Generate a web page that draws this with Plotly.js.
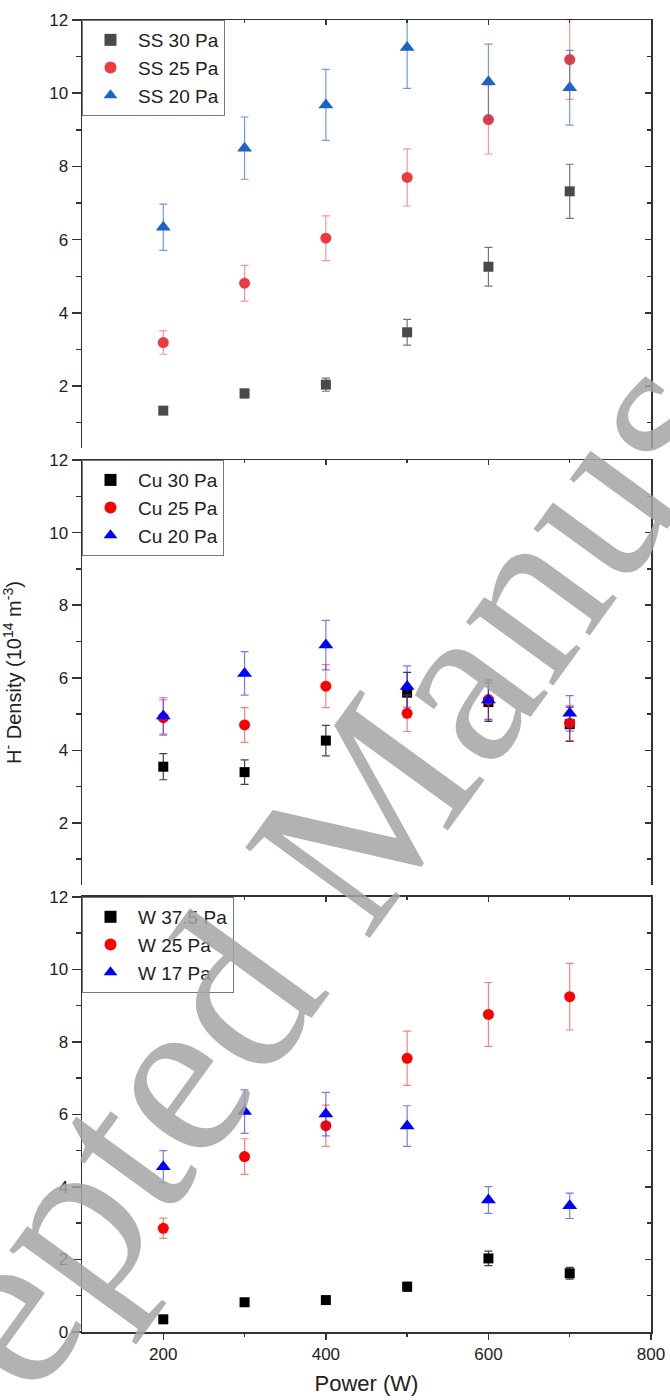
<!DOCTYPE html>
<html>
<head>
<meta charset="utf-8">
<script src="https://cdn.plot.ly/plotly-3.0.1.min.js"></script>
<style>html,body{margin:0;padding:0;background:#fff;}#chart{width:670px;height:1400px;}</style>
</head>
<body>
<div id="chart"></div>
<script>
// ---- data ----
const power = [200, 300, 400, 500, 600, 700];

const ss30 = [1.33, 1.80, 2.04, 3.47, 5.26, 7.32];
const ss30Err = [0.08, 0.12, 0.18, 0.35, 0.53, 0.74];
const ss25 = [3.19, 4.81, 6.04, 7.70, 9.28, 10.92];
const ss25Err = [0.32, 0.49, 0.61, 0.78, 0.94, 1.09];
const ss20 = [6.34, 8.50, 9.68, 11.25, 10.31, 10.15];
const ss20Err = [0.63, 0.85, 0.97, 1.12, 1.03, 1.02];

const cu30 = [3.55, 3.40, 4.27, 5.59, 5.33, 4.72];
const cu30Err = [0.36, 0.34, 0.42, 0.56, 0.53, 0.47];
const cu25 = [4.90, 4.70, 5.77, 5.02, 5.40, 4.75];
const cu25Err = [0.49, 0.48, 0.59, 0.50, 0.54, 0.48];
const cu20 = [4.95, 6.12, 6.90, 5.76, 5.39, 5.02];
const cu20Err = [0.50, 0.60, 0.68, 0.57, 0.55, 0.49];

const w375 = [0.35, 0.82, 0.88, 1.25, 2.03, 1.62];
const w375Err = [0.04, 0.08, 0.09, 0.12, 0.20, 0.16];
const w25 = [2.86, 4.84, 5.69, 7.55, 8.76, 9.25];
const w25Err = [0.28, 0.49, 0.57, 0.75, 0.88, 0.92];
const w17 = [4.56, 6.08, 6.01, 5.68, 3.64, 3.48];
const w17Err = [0.44, 0.60, 0.60, 0.56, 0.37, 0.35];

const seriesNames = [
  ['SS 30 Pa', 'SS 25 Pa', 'SS 20 Pa'],
  ['Cu 30 Pa', 'Cu 25 Pa', 'Cu 20 Pa'],
  ['W 37.5 Pa', 'W 25 Pa', 'W 17 Pa']
];
const xTickVals = [200, 400, 600, 800];
const xMinorVals = [300, 500, 700];
const yTickVals = [0, 2, 4, 6, 8, 10, 12];
const yMinorVals = [1, 3, 5, 7, 9, 11];

// ---- styles ----
const symbols = ['square', 'circle', 'triangle-up'];
const sizes = [10, 11, 13];
const panelColors = [
  ['#4a4a4a', '#ec3b3f', '#1c63c8'],
  ['#000000', '#ff0000', '#0000ff'],
  ['#000000', '#ff0000', '#0000ff']
];
const errColors = [
  ['rgba(70,70,70,0.75)', 'rgba(236,80,84,0.6)', 'rgba(40,100,200,0.65)'],
  ['rgba(0,0,0,0.75)', 'rgba(255,40,40,0.6)', 'rgba(30,30,255,0.6)'],
  ['rgba(0,0,0,0.75)', 'rgba(255,40,40,0.6)', 'rgba(30,30,255,0.6)']
];
const panelData = [
  [[ss30, ss30Err], [ss25, ss25Err], [ss20, ss20Err]],
  [[cu30, cu30Err], [cu25, cu25Err], [cu20, cu20Err]],
  [[w375, w375Err], [w25, w25Err], [w17, w17Err]]
];

const traces = [];
panelData.forEach((panel, p) => {
  // helper trace holding no visible point, so the mirrored (top / right) frame axes get drawn
  traces.push({
    type: 'scatter', mode: 'markers', x: [null], y: [null],
    xaxis: 'x' + (p + 4), yaxis: 'y' + (p + 4),
    showlegend: false, hoverinfo: 'skip', marker: {opacity: 0}
  });
  panel.forEach((s, k) => {
    traces.push({
      type: 'scatter', mode: 'markers',
      x: power, y: s[0],
      name: seriesNames[p][k],
      xaxis: 'x' + (p + 1), yaxis: 'y' + (p + 1),
      legend: p === 0 ? 'legend' : 'legend' + (p + 1),
      marker: {symbol: symbols[k], size: sizes[k], color: panelColors[p][k], line: {width: 0}},
      error_y: {type: 'data', array: s[1], visible: true, color: errColors[p][k], thickness: 1.2, width: 4}
    });
  });
});

const FONT = 'Liberation Sans, Arial, sans-serif';
const AX = '#333333';
const domains = [[0.6738, 1.0], [0.3407, 0.6646], [0.0, 0.3316]];
const ranges = [[0.31, 12], [0.29, 12], [0, 12]];

const layout = {
  width: 670, height: 1400,
  margin: {l: 82, r: 19, t: 20, b: 68},
  paper_bgcolor: '#ffffff', plot_bgcolor: '#ffffff',
  font: {family: FONT, color: '#222222', size: 17},
  showlegend: true,
  annotations: [{
    text: 'Accepted Manuscript',
    xref: 'paper', yref: 'paper', x: 0.45, y: 0.37,
    xanchor: 'center', yanchor: 'middle',
    showarrow: false, textangle: -54,
    font: {family: 'Liberation Serif, DejaVu Serif, serif', size: 235, color: 'rgba(165,165,165,0.85)'}
  }]
};

for (let p = 0; p < 3; p++) {
  const n = p + 1;
  const legKey = p === 0 ? 'legend' : 'legend' + n;
  layout[legKey] = {
    x: 0, xanchor: 'left', y: domains[p][1], yanchor: 'top',
    xref: 'paper', yref: 'paper',
    bgcolor: '#ffffff', bordercolor: '#777777', borderwidth: 1,
    font: {family: FONT, size: 19, color: '#222222'},
    tracegroupgap: 0, itemsizing: 'constant', itemwidth: 45
  };
  const isBottom = p === 2;
  layout['xaxis' + n] = {
    domain: [0, 1], anchor: 'y' + n, range: [100, 800],
    showgrid: false, zeroline: false,
    showline: isBottom, linecolor: AX, linewidth: 1.5,
    ticks: isBottom ? 'outside' : '', ticklen: 6, tickwidth: 1.5, tickcolor: AX,
    tickvals: xTickVals, showticklabels: isBottom,
    tickfont: {family: FONT, size: 17, color: '#222222'},
    minor: isBottom ? {tickvals: xMinorVals, ticks: 'outside', ticklen: 3, tickwidth: 1.5, tickcolor: AX} : undefined,
    title: isBottom ? {text: 'Power (W)', font: {family: FONT, size: 22, color: '#222222'}, standoff: 12} : undefined
  };
  layout['xaxis' + (n + 3)] = {
    domain: [0, 1], overlaying: 'x' + n, side: 'top', anchor: 'y' + (n + 3), range: [100, 800],
    showgrid: false, zeroline: false,
    showline: true, linecolor: AX, linewidth: 1.5,
    ticks: 'inside', ticklen: 5, tickwidth: 1.5, tickcolor: AX,
    tickvals: [200, 400, 600], showticklabels: false,
    minor: {tickvals: xMinorVals, ticks: 'inside', ticklen: 3, tickwidth: 1.5, tickcolor: AX}
  };
  layout['yaxis' + n] = {
    domain: domains[p], anchor: 'x' + n, range: ranges[p],
    showgrid: false, zeroline: false,
    showline: true, linecolor: AX, linewidth: 1.5,
    ticks: 'outside', ticklen: 9, tickwidth: 1.5, tickcolor: AX,
    tickvals: yTickVals, showticklabels: true,
    tickfont: {family: FONT, size: 17, color: '#222222'},
    minor: {tickvals: yMinorVals, ticks: 'outside', ticklen: 5, tickwidth: 1.5, tickcolor: AX},
    title: p === 1 ? {text: 'H<sup>-</sup> Density (10<sup>14</sup> m<sup>-3</sup>)', font: {family: FONT, size: 20, color: '#222222'}, standoff: 22} : undefined
  };
  layout['yaxis' + (n + 3)] = {
    domain: domains[p], overlaying: 'y' + n, side: 'right', anchor: 'x' + (n + 3), range: ranges[p],
    showgrid: false, zeroline: false,
    showline: true, linecolor: AX, linewidth: 1.5,
    ticks: 'inside', ticklen: 6, tickwidth: 1.5, tickcolor: AX,
    tickvals: yTickVals, showticklabels: false,
    minor: {tickvals: yMinorVals, ticks: 'inside', ticklen: 4, tickwidth: 1.5, tickcolor: AX}
  };
}

Plotly.newPlot('chart', traces, layout, {displayModeBar: false, staticPlot: true});
</script>
</body>
</html>
